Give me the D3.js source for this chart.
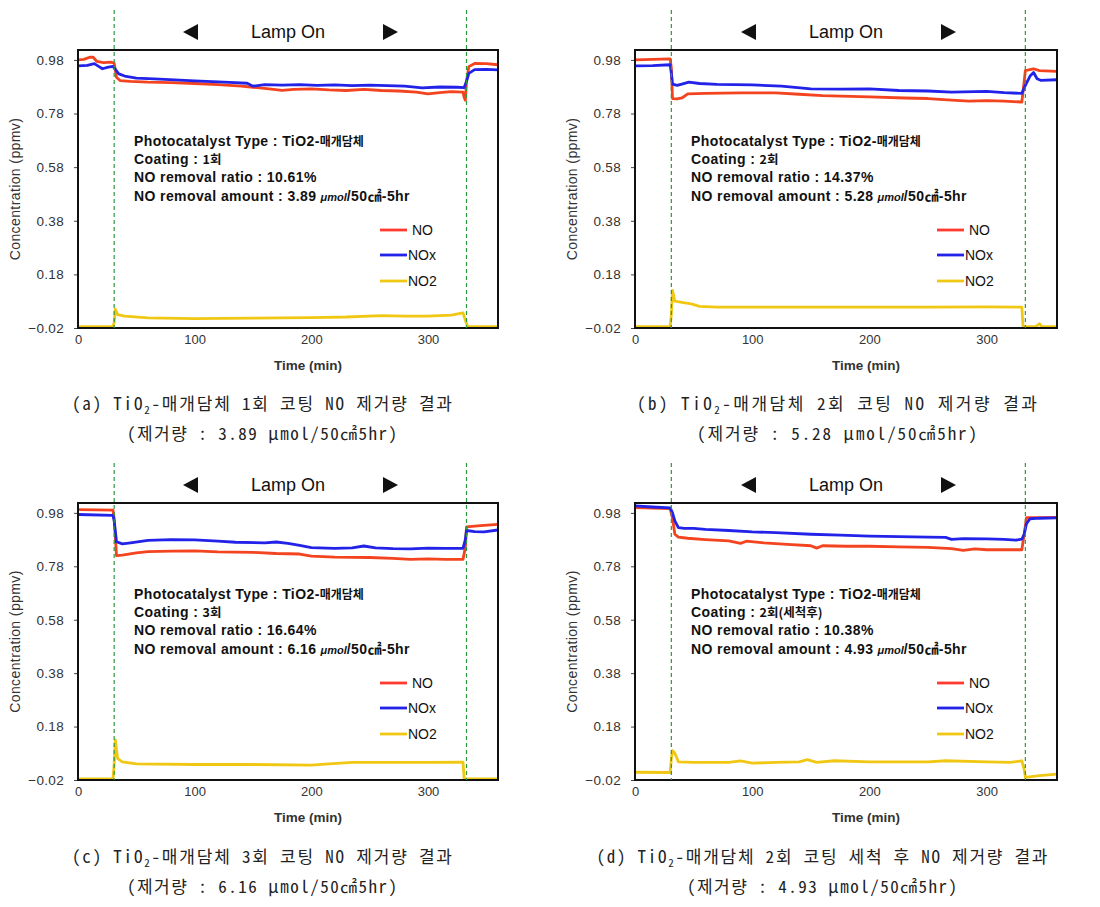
<!DOCTYPE html>
<html><head><meta charset="utf-8">
<script src="https://cdn.jsdelivr.net/npm/d3@7"></script>
<style>
body{margin:0;background:#fff;}
svg{display:block;}
</style></head>
<body>
<svg id="c" width="1100" height="907"></svg>
<script>
// ---------- data ----------
const yTicks = [-0.02, 0.18, 0.38, 0.58, 0.78, 0.98];
const xTicks = [0, 100, 200, 300];
const lampTimes = [31, 333];
const seriesNames = ["NO", "NOx", "NO2"];

const aNO = [[0,0.98],[5,0.982],[10,0.99],[13,0.99],[16,0.975],[22,0.97],[28,0.972],[31,0.968],[33,0.915],[36,0.903],[45,0.9],[60,0.897],[80,0.895],[100,0.892],[120,0.888],[140,0.882],[150,0.878],[160,0.874],[175,0.866],[185,0.87],[200,0.872],[215,0.868],[230,0.866],[245,0.87],[260,0.866],[275,0.864],[290,0.86],[300,0.853],[310,0.858],[320,0.862],[330,0.86],[331,0.84],[332,0.83],[333,0.9],[335,0.955],[340,0.967],[350,0.966],[360,0.962]];
const aNOx = [[0,0.958],[8,0.96],[14,0.966],[18,0.955],[21,0.947],[26,0.953],[30,0.956],[32,0.945],[35,0.928],[40,0.92],[50,0.912],[70,0.908],[100,0.902],[130,0.896],[145,0.893],[150,0.882],[160,0.888],[175,0.886],[190,0.888],[205,0.885],[220,0.887],[235,0.884],[250,0.886],[265,0.884],[280,0.882],[295,0.876],[310,0.879],[325,0.878],[331,0.877],[333,0.9],[335,0.93],[340,0.944],[350,0.945],[360,0.943]];
const aNO2 = [[0,-0.015],[30,-0.015],[31,0.0],[32,0.05],[34,0.03],[40,0.024],[60,0.018],[100,0.015],[150,0.017],[200,0.019],[230,0.021],[260,0.026],[280,0.024],[300,0.024],[320,0.028],[330,0.036],[332,0.01],[334,-0.015],[360,-0.015]];

const bNO = [[0,0.98],[15,0.982],[30,0.984],[31,0.95],[32,0.836],[36,0.835],[40,0.838],[45,0.853],[60,0.855],[90,0.857],[120,0.857],[140,0.852],[160,0.847],[200,0.842],[230,0.838],[250,0.836],[270,0.83],[285,0.826],[300,0.828],[315,0.826],[330,0.823],[331,0.86],[333,0.94],[340,0.947],[345,0.94],[360,0.937]];
const bNOx = [[0,0.958],[15,0.959],[30,0.962],[31,0.93],[32,0.89],[36,0.885],[40,0.89],[46,0.897],[55,0.892],[70,0.889],[100,0.887],[125,0.882],[150,0.872],[175,0.871],[200,0.872],[225,0.866],[250,0.864],[270,0.86],[290,0.862],[300,0.863],[315,0.858],[330,0.855],[333,0.885],[337,0.92],[340,0.933],[343,0.91],[346,0.904],[360,0.906]];
const bNO2 = [[0,-0.015],[30,-0.015],[31,0.03],[32,0.12],[34,0.08],[40,0.076],[48,0.07],[55,0.061],[70,0.058],[150,0.058],[250,0.058],[300,0.059],[330,0.058],[331,-0.015],[342,-0.015],[345,-0.004],[347,-0.015],[360,-0.015]];

const cNO = [[0,0.992],[30,0.99],[31,0.96],[33,0.82],[38,0.822],[50,0.83],[60,0.835],[80,0.837],[100,0.838],[120,0.834],[150,0.832],[170,0.828],[190,0.826],[200,0.818],[220,0.814],[250,0.813],[270,0.81],[285,0.806],[300,0.808],[315,0.806],[330,0.806],[332,0.85],[333,0.928],[345,0.932],[360,0.937]];
const cNOx = [[0,0.974],[30,0.971],[31,0.95],[33,0.872],[38,0.864],[45,0.868],[60,0.877],[80,0.88],[100,0.879],[120,0.874],[135,0.87],[160,0.868],[170,0.871],[180,0.866],[190,0.858],[200,0.85],[220,0.847],[235,0.849],[245,0.856],[255,0.849],[270,0.846],[285,0.845],[300,0.848],[315,0.847],[330,0.847],[332,0.88],[333,0.914],[340,0.91],[348,0.909],[360,0.916]];
const cNO2 = [[0,-0.016],[30,-0.016],[31,0.04],[32,0.13],[34,0.06],[38,0.048],[50,0.04],[100,0.038],[150,0.038],[200,0.036],[215,0.04],[235,0.046],[300,0.046],[330,0.047],[331,-0.016],[360,-0.016]];

const dNO = [[0,1.0],[15,0.998],[30,0.996],[32,0.96],[34,0.9],[37,0.889],[45,0.885],[60,0.88],[80,0.875],[90,0.866],[95,0.874],[110,0.868],[130,0.862],[150,0.857],[155,0.848],[160,0.857],[180,0.855],[200,0.855],[225,0.853],[250,0.851],[270,0.846],[280,0.84],[290,0.845],[300,0.842],[330,0.842],[332,0.9],[334,0.962],[345,0.962],[360,0.963]];
const dNOx = [[0,1.006],[15,1.002],[30,0.999],[32,0.98],[34,0.95],[37,0.925],[42,0.922],[50,0.922],[60,0.918],[80,0.914],[100,0.909],[120,0.906],[150,0.9],[175,0.897],[200,0.893],[225,0.891],[250,0.889],[265,0.888],[270,0.881],[280,0.884],[300,0.883],[315,0.881],[325,0.878],[330,0.882],[332,0.9],[334,0.94],[337,0.958],[345,0.96],[360,0.961]];
const dNO2 = [[0,0.009],[30,0.008],[31,0.06],[32,0.09],[34,0.08],[37,0.048],[50,0.046],[80,0.046],[90,0.052],[100,0.043],[120,0.046],[140,0.048],[147,0.056],[155,0.046],[170,0.052],[200,0.048],[250,0.048],[265,0.052],[300,0.048],[320,0.046],[330,0.052],[332,0.02],[333,-0.01],[345,-0.004],[360,0.002]];

const coatings = ["1회", "2회", "3회", "2회(세척후)"];
const ratios = ["10.61%", "14.37%", "16.64%", "10.38%"];
const amounts = ["3.89", "5.28", "6.16", "4.93"];
const captionLabels = ["(a)", "(b)", "(c)", "(d)"];
const captionMid = ["1회 코팅 NO 제거량 결과", "2회 코팅 NO 제거량 결과", "3회 코팅 NO 제거량 결과", "2회 코팅 세척 후 NO 제거량 결과"];

// ---------- layout ----------
const colors = {NO: "#f4431f", NOx: "#2222e8", NO2: "#f0c814"};
const legendColors = {NO: "#ff3b30", NOx: "#2222e8", NO2: "#f0c814"};
const panels = [
  {x: 78,  y: 50,  w: 420, h: 278, data: [aNO, aNOx, aNO2]},
  {x: 635, y: 50,  w: 422, h: 278, data: [bNO, bNOx, bNO2]},
  {x: 78,  y: 503, w: 420, h: 277, data: [cNO, cNOx, cNO2]},
  {x: 635, y: 503, w: 422, h: 277, data: [dNO, dNOx, dNO2]}
];
const capPos = [
  {cx: 262, y1: 410, y2: 440, w1: 380, w2: 270},
  {cx: 837, y1: 410, y2: 440, w1: 400, w2: 280},
  {cx: 262, y1: 863, y2: 893, w1: 380, w2: 270},
  {cx: 822, y1: 863, y2: 893, w1: 451, w2: 270}
];

const svg = d3.select("#c");
const sans = "Arial, 'Liberation Sans', 'Noto Sans CJK KR', sans-serif";
const cjk = "'Noto Sans CJK KR', sans-serif";
const capFont = "'Noto Sans Mono CJK KR', 'Noto Sans CJK KR', sans-serif";

panels.forEach((p, i) => {
  const g = svg.append("g").attr("transform", `translate(${p.x},${p.y})`);
  const x = d3.scaleLinear().domain([0, 360]).range([0, p.w]);
  const y = d3.scaleLinear().domain([-0.02, 1.017]).range([p.h, 0]);

  // y axis
  const ya = g.append("g").call(d3.axisLeft(y).tickValues(yTicks).tickSize(4).tickPadding(10).tickFormat(d3.format(".2f")));
  ya.select(".domain").remove();
  ya.selectAll("line").attr("stroke", "#444");
  ya.selectAll("text").attr("font-family", sans).attr("font-size", 13.5).attr("letter-spacing", 0.3).attr("fill", "#333");

  // x axis
  const xa = g.append("g").attr("transform", `translate(0,${p.h})`)
    .call(d3.axisBottom(x).tickValues(xTicks).tickSize(0).tickPadding(7));
  xa.select(".domain").remove();
  xa.selectAll("text").attr("font-family", sans).attr("font-size", 13).attr("fill", "#333");

  // axis titles
  g.append("text").attr("transform", `translate(-58,${p.h/2}) rotate(-90)`)
    .attr("text-anchor", "middle").attr("font-family", sans).attr("font-size", 14).attr("letter-spacing", 0.4).attr("fill", "#333")
    .text("Concentration (ppmv)");
  g.append("text").attr("x", p.w/2 + 20).attr("y", p.h + 42)
    .attr("text-anchor", "middle").attr("font-family", sans).attr("font-size", 13.5).attr("font-weight", "bold").attr("fill", "#333")
    .text("Time (min)");

  // lines
  const line = d3.line().x(d => x(d[0])).y(d => y(d[1]));
  const clipId = "clip" + i;
  g.append("clipPath").attr("id", clipId).append("rect").attr("x", 0).attr("y", -2).attr("width", p.w).attr("height", p.h + 1);
  const lg = g.append("g").attr("clip-path", `url(#${clipId})`);
  [2, 0, 1].forEach(k => {
    lg.append("path").datum(p.data[k]).attr("d", line)
      .attr("fill", "none").attr("stroke", colors[seriesNames[k]]).attr("stroke-width", 2.8)
      .attr("stroke-linejoin", "round");
  });

  // frame
  g.append("rect").attr("width", p.w).attr("height", p.h).attr("fill", "none").attr("stroke", "#111").attr("stroke-width", 2);

  // lamp lines
  lampTimes.forEach(t => {
    g.append("line").attr("x1", x(t)).attr("x2", x(t)).attr("y1", -40).attr("y2", p.h)
      .attr("stroke", "#2c9a3a").attr("stroke-width", 1.2).attr("stroke-dasharray", "4,3");
  });

  // Lamp On
  const cx = p.w / 2;
  g.append("text").attr("x", cx).attr("y", -12).attr("text-anchor", "middle")
    .attr("font-family", sans).attr("font-size", 18).attr("fill", "#111").text("Lamp  On");
  g.append("path").attr("d", `M${cx-105},-18 l15,-8 v16 z`).attr("fill", "#111");
  g.append("path").attr("d", `M${cx+110},-18 l-15,-8 v16 z`).attr("fill", "#111");

  // annotation
  const ann = g.append("g").attr("transform", "translate(56,0)")
    .attr("font-family", sans).attr("font-size", 14).attr("font-weight", "bold").attr("fill", "#111");
  const t1 = ann.append("text").attr("y", 96).attr("letter-spacing", 0.4).text("Photocatalyst Type : TiO2-");
  t1.append("tspan").attr("font-family", cjk).attr("font-weight", 700).attr("font-size", 12).attr("letter-spacing", 0).text("매개담체");
  const t2 = ann.append("text").attr("y", 114).attr("letter-spacing", 0.4).text("Coating : ");
  t2.append("tspan").attr("font-family", cjk).attr("font-weight", 700).attr("font-size", 12.5).attr("letter-spacing", 0).text(coatings[i]);
  ann.append("text").attr("y", 132).attr("letter-spacing", 0.4).text("NO removal ratio : " + ratios[i]);
  const t4 = ann.append("text").attr("y", 151).attr("letter-spacing", 0.4).text("NO removal amount : " + amounts[i] + " ");
  t4.append("tspan").attr("font-style", "italic").attr("font-size", 11).attr("letter-spacing", 0).text("μmol");
  t4.append("tspan").text("/50㎠-5hr");

  // legend
  const leg = g.append("g").attr("font-family", sans).attr("font-size", 14).attr("fill", "#111");
  const ly = [180, 205, 231];
  seriesNames.forEach((s, k) => {
    leg.append("line").attr("x1", 302).attr("x2", 329).attr("y1", ly[k]).attr("y2", ly[k])
      .attr("stroke", legendColors[s]).attr("stroke-width", 2.8);
    leg.append("text").attr("x", k === 0 ? 334 : 330).attr("y", ly[k] + 5).text(s);
  });

  // captions
  const cp = capPos[i];
  const c1 = svg.append("text").attr("x", cp.cx).attr("y", cp.y1).attr("text-anchor", "middle")
    .attr("font-family", capFont).attr("font-size", 17).attr("font-weight", 300).attr("fill", "#222")
    .attr("textLength", cp.w1).attr("lengthAdjust", "spacing");
  c1.append("tspan").text(captionLabels[i] + " TiO");
  c1.append("tspan").attr("font-size", 11).attr("dy", 4).text("2");
  c1.append("tspan").attr("dy", -4).text("-매개담체 " + captionMid[i]);
  svg.append("text").attr("x", cp.cx).attr("y", cp.y2).attr("text-anchor", "middle")
    .attr("font-family", capFont).attr("font-size", 17).attr("font-weight", 300).attr("fill", "#222")
    .attr("textLength", cp.w2).attr("lengthAdjust", "spacing")
    .text("(제거량 : " + amounts[i] + " μmol/50㎠5hr)");
});
</script>
</body></html>
